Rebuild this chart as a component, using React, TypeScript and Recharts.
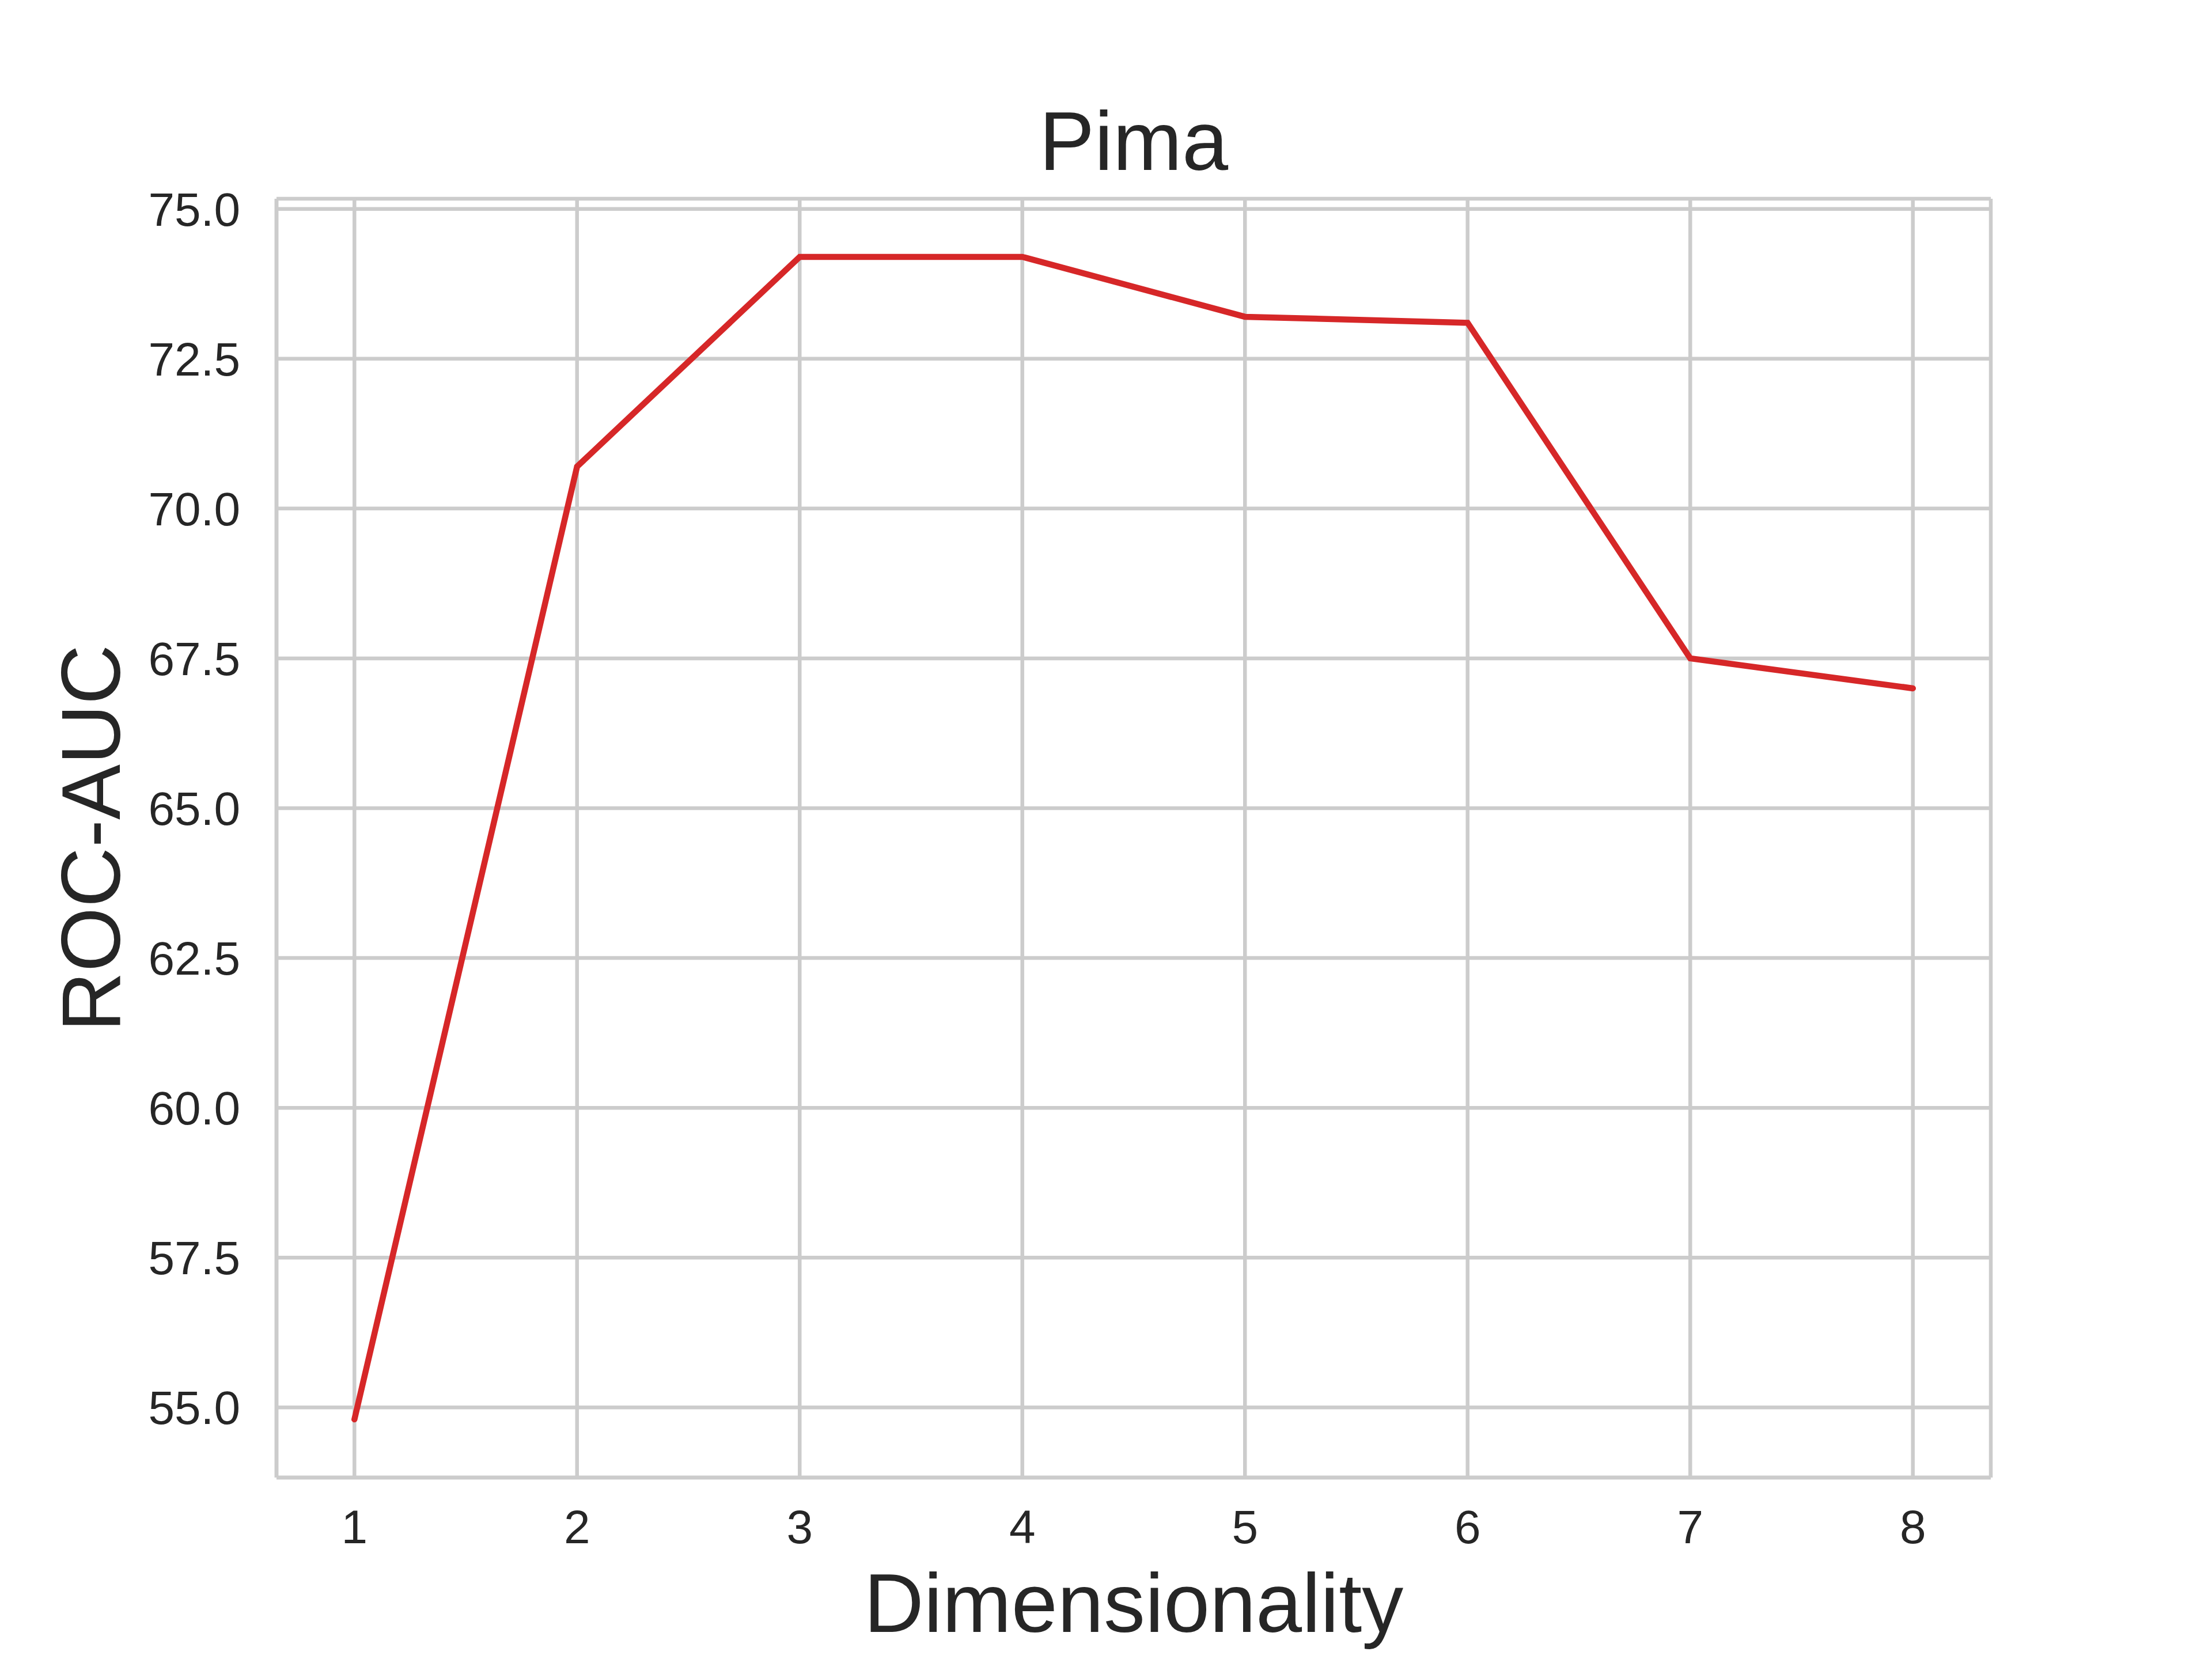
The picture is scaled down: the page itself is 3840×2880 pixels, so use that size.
import { CartesianGrid, Line, LineChart, XAxis, YAxis } from 'recharts';

const dims = [1, 2, 3, 4, 5, 6, 7, 8];
const rocAuc = [54.8, 70.7, 74.2, 74.2, 73.2, 73.1, 67.5, 67.0];
const yTicks = [55, 57.5, 60, 62.5, 65, 67.5, 70, 72.5, 75];

const chartTitle = 'Pima';
const xLabel = 'Dimensionality';
const yLabel = 'ROC-AUC';

const data = dims.map((d, i) => ({ dim: d, auc: rocAuc[i] }));

// matplotlib-style 5% autoscale margins
const pad = (lo: number, hi: number): [number, number] => {
  const m = (hi - lo) * 0.05;
  return [lo - m, hi + m];
};
const xDomain = pad(Math.min(...dims), Math.max(...dims));
const yDomain = pad(Math.min(...rocAuc), Math.max(...rocAuc));

const FONT = '"Liberation Sans", Arial, Helvetica, sans-serif';
const INK = '#262626';
const GRID = '#cccccc';
const GRID_W = 6.5;

const tickStyle = { fill: INK, fontSize: 82, fontFamily: FONT };

export default function App() {
  return (
    <div style={{ position: 'absolute', left: 0, top: 0, width: 3840, height: 2880, background: '#fff' }}>
      <div
        style={{
          position: 'absolute',
          left: 480,
          width: 2976,
          top: 174,
          textAlign: 'center',
          fontFamily: FONT,
          fontSize: 144,
          lineHeight: '144px',
          color: INK,
        }}
      >
        {chartTitle}
      </div>
      <LineChart
        width={3840}
        height={2880}
        data={data}
        margin={{ top: 345, right: 384, left: 0, bottom: 0 }}
      >
        <CartesianGrid stroke={GRID} strokeWidth={GRID_W} fill="none" />
        <XAxis
          dataKey="dim"
          type="number"
          domain={xDomain}
          ticks={dims}
          height={315}
          tickLine={false}
          tickSize={0}
          tickMargin={56}
          tick={tickStyle}
          axisLine={{ stroke: GRID, strokeWidth: GRID_W }}
          label={{
            content: (props: any) => {
              const vb = props.viewBox || { x: 480, y: 2565, width: 2976, height: 315 };
              return (
                <text
                  x={vb.x + vb.width / 2}
                  y={vb.y + vb.height - 47}
                  textAnchor="middle"
                  fill={INK}
                  fontSize={144}
                  fontFamily={FONT}
                >
                  {xLabel}
                </text>
              );
            },
          }}
        />
        <XAxis
          xAxisId="top"
          orientation="top"
          type="number"
          domain={xDomain}
          height={0}
          tick={false}
          tickLine={false}
          axisLine={{ stroke: GRID, strokeWidth: GRID_W }}
        />
        <YAxis
          type="number"
          domain={yDomain}
          ticks={yTicks}
          width={480}
          tickLine={false}
          tickSize={0}
          tickMargin={63}
          tick={tickStyle}
          tickFormatter={(v: number) => v.toFixed(1)}
          axisLine={{ stroke: GRID, strokeWidth: GRID_W }}
          label={{
            content: (props: any) => {
              const vb = props.viewBox || { x: 0, y: 345, width: 480, height: 2220 };
              const cx = vb.x + 208;
              const cy = vb.y + vb.height / 2;
              return (
                <text
                  x={cx}
                  y={cy}
                  transform={`rotate(-90, ${cx}, ${cy})`}
                  textAnchor="middle"
                  fill={INK}
                  fontSize={144}
                  fontFamily={FONT}
                >
                  {yLabel}
                </text>
              );
            },
          }}
        />
        <YAxis
          yAxisId="right"
          orientation="right"
          type="number"
          domain={yDomain}
          width={0}
          tick={false}
          tickLine={false}
          axisLine={{ stroke: GRID, strokeWidth: GRID_W }}
        />
        <Line
          type="linear"
          dataKey="auc"
          stroke="#d62728"
          strokeWidth={10.5}
          strokeLinecap="round"
          dot={false}
          activeDot={false}
          isAnimationActive={false}
        />
      </LineChart>
    </div>
  );
}
